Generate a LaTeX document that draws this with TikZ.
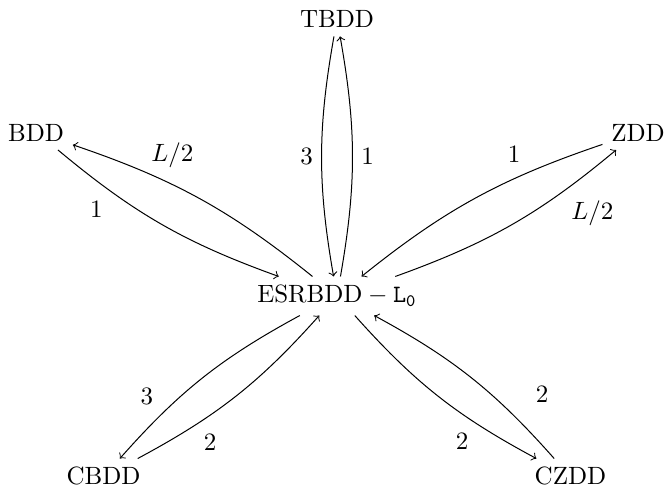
\documentclass[tikz,border=0pt]{standalone}
\usepackage{amsmath}
\begin{document}
\begin{tikzpicture}[link/.style={->, bend right=10}]
    \useasboundingbox (-4.738,-2.741) rectangle (4.653,4.161);
    % Nodes
    \node (esr) at (0,0) {$\text{ESRBDD}-\mathtt{L_0}$};
    \node (tbdd) at (0,3.894) {TBDD};
    \node (bdd) at (-4.231,2.298) {BDD};
    \node (zdd) at (4.231,2.298) {ZDD};
    \node (cbdd) at (-3.282,-2.537) {CBDD};
    \node (czdd) at (3.282,-2.537) {CZDD};

    % Arrows
    \draw[link] (esr) to node[pos=0.62, above=3pt] {$L/2$} (bdd);
    \draw[link] (bdd) to node[pos=0.25, below left] {1} (esr);
    \draw[link] (tbdd) to node[left] {3} (esr);
    \draw[link] (esr) to node[right] {1} (tbdd);
    \draw[link] (zdd) to node[pos=0.33, above=3pt] {1} (esr);
    \draw[link] (esr) to node[pos=0.75, below right] {$L/2$} (zdd);
    \draw[link] (esr) to node[pos=0.75, above left] {3} (cbdd);
    \draw[link] (cbdd) to node[pos=0.27, below right] {2} (esr);
    \draw[link] (esr) to node[pos=0.72, below left] {2} (czdd);
    \draw[link] (czdd) to node[pos=0.22, above right, xshift=4pt, yshift=3pt] {2} (esr);
\end{tikzpicture}
\end{document}
